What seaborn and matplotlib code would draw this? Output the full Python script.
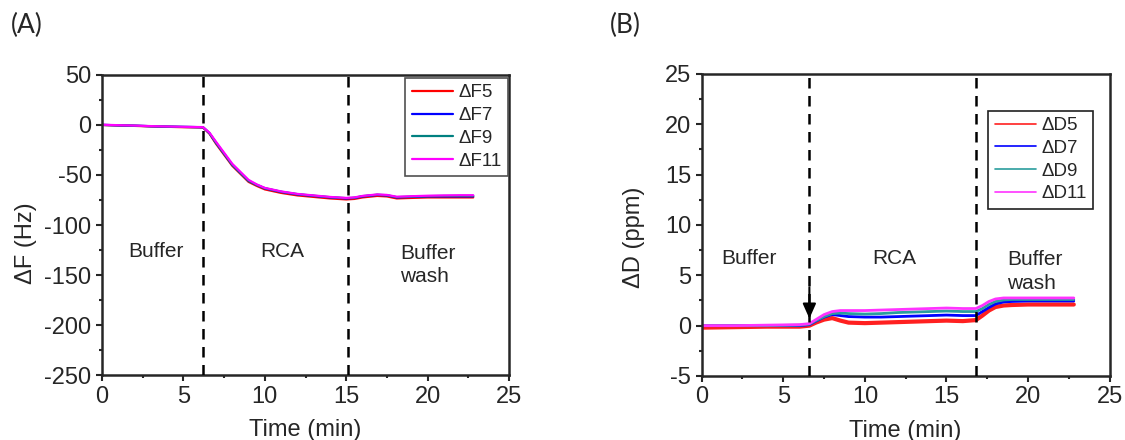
import pandas as pd
import seaborn as sns
import matplotlib.pyplot as plt
from matplotlib.ticker import MultipleLocator


# panel A: frequency shift (Hz) vs time (min)
time_a = [0, 1, 2, 3, 4, 5, 6.2, 6.6, 7.0, 7.5, 8.0, 8.5, 9.0, 9.5, 10, 11, 12, 13, 14, 15,
          15.5, 16, 16.9, 17.5, 18.1, 19, 20, 21, 22, 22.8]
df5 = [-0.3, -0.8, -1.2, -1.7, -2.1, -2.5, -2.8, -9, -19, -30, -41, -49, -57, -61, -64.5, -68, -70.5,
       -72, -73.5, -74.5, -74, -72.5, -71, -71.5, -73.5, -73, -72.5, -72.5, -72.5, -72.5]
df7 = [-0.2, -0.6, -1.0, -1.5, -1.9, -2.2, -2.5, -8.5, -18, -29, -40, -48, -56, -60, -63.5, -67, -69.5,
       -71, -72.5, -73.5, -73, -71.5, -70, -70.5, -72.5, -72, -71.5, -71.5, -71.5, -71.5]
df9 = [-0.2, -0.6, -1.0, -1.5, -1.9, -2.2, -2.5, -8.5, -18, -29, -40, -48, -56, -60, -63.3, -66.8, -69.2,
       -70.8, -72.2, -73.2, -72.8, -71.2, -69.8, -70.3, -72.2, -71.7, -71.2, -71.0, -71.0, -71.0]
df11 = [0, -0.5, -0.9, -1.4, -1.8, -2.1, -2.4, -8, -17, -28, -39, -47, -55, -59.5, -63, -66.5, -69,
        -70.5, -72, -73, -72.5, -71, -69.5, -70, -71.8, -71.3, -70.8, -70.5, -70.3, -70.3]

# panel B: dissipation shift (ppm) vs time (min)
time_b = [0, 2, 4, 6, 6.6, 7.0, 7.5, 8.0, 8.5, 9, 10, 11, 12, 13, 14, 15, 16, 16.8, 17.2, 17.6,
          18.0, 18.5, 19, 20, 21, 22, 22.8]
dd5 = [-0.2, -0.15, -0.1, -0.1, 0.0, 0.3, 0.6, 0.75, 0.5, 0.3, 0.25, 0.3, 0.35, 0.4, 0.45, 0.5, 0.45,
       0.55, 1.0, 1.5, 1.85, 2.0, 2.05, 2.1, 2.1, 2.1, 2.1]
dd7 = [0, 0, 0, 0, 0.1, 0.45, 0.85, 1.1, 1.0, 0.9, 0.85, 0.85, 0.9, 0.95, 1.0, 1.05, 1.0, 1.0, 1.4,
       1.8, 2.15, 2.35, 2.4, 2.45, 2.45, 2.45, 2.45]
dd9 = [0, 0, 0, 0.05, 0.15, 0.5, 0.9, 1.2, 1.25, 1.2, 1.15, 1.2, 1.3, 1.35, 1.4, 1.45, 1.4, 1.4, 1.7,
       2.1, 2.4, 2.55, 2.6, 2.6, 2.6, 2.6, 2.6]
dd11 = [0, 0, 0.05, 0.1, 0.2, 0.6, 1.1, 1.4, 1.5, 1.5, 1.5, 1.55, 1.6, 1.65, 1.7, 1.75, 1.7, 1.7, 2.0,
        2.4, 2.65, 2.75, 2.75, 2.75, 2.75, 2.75, 2.75]

labels_a = ["\u0394F5", "\u0394F7", "\u0394F9", "\u0394F11"]
labels_b = ["\u0394D5", "\u0394D7", "\u0394D9", "\u0394D11"]
phase_a = [6.2, 15.1]
phase_b = [6.6, 16.8]

rows = []
for lab, vals in zip(labels_a, [df5, df7, df9, df11]):
    rows += [(t, v, lab) for t, v in zip(time_a, vals)]
data_a = pd.DataFrame(rows, columns=["t", "val", "series"])
rows = []
for lab, vals in zip(labels_b, [dd5, dd7, dd9, dd11]):
    rows += [(t, v, lab) for t, v in zip(time_b, vals)]
data_b = pd.DataFrame(rows, columns=["t", "val", "series"])

sns.set_style("ticks")
plt.rcParams['font.family'] = ['Liberation Sans', 'DejaVu Sans']
plt.rcParams['axes.unicode_minus'] = False
plt.rcParams['axes.linewidth'] = 1.8

fig = plt.figure(figsize=(11.25, 4.4), dpi=100)
ax1 = fig.add_axes([0.0907, 0.1466, 0.3618, 0.684])
ax2 = fig.add_axes([0.6237, 0.1455, 0.3627, 0.6864])

pal_a = dict(zip(labels_a, ["#ff0000", "#0000ff", "#008080", "#ff00ff"]))
pal_b = dict(zip(labels_b, ["#ff2020", "#0000ff", "#2a9d9d", "#ff33ff"]))

sns.lineplot(data=data_a, x="t", y="val", hue="series", palette=pal_a, ax=ax1,
             estimator=None, sort=False, linewidth=1.6)
sns.lineplot(data=data_b, x="t", y="val", hue="series", palette=pal_b, ax=ax2,
             estimator=None, sort=False, linewidth=2.0)
# red trace in B is noisy, show it thicker
ax2.get_lines()[0].set_linewidth(3.0)

for ax, xs in [(ax1, phase_a), (ax2, phase_b)]:
    for x in xs:
        ax.axvline(x, color='black', lw=1.8, dashes=(4.2, 3.0), zorder=5)
    ax.set_xlim(0, 25)
    ax.xaxis.set_major_locator(MultipleLocator(5))
    ax.xaxis.set_minor_locator(MultipleLocator(2.5))
    ax.tick_params(which='major', direction='out', length=4.5, width=1.5, labelsize=17, pad=3)
    ax.tick_params(which='minor', direction='out', length=2.5, width=1.5)
    ax.set_xlabel("Time (min)", fontsize=17, labelpad=8)

ax1.set_ylim(-250, 50)
ax1.yaxis.set_major_locator(MultipleLocator(50))
ax1.yaxis.set_minor_locator(MultipleLocator(25))
ax1.set_ylabel("\u0394F (Hz)", fontsize=17)
ax1.yaxis.set_label_coords(-0.16, 0.44)

ax2.set_ylim(-5, 25)
ax2.yaxis.set_major_locator(MultipleLocator(5))
ax2.yaxis.set_minor_locator(MultipleLocator(2.5))
ax2.set_ylabel("\u0394D (ppm)", fontsize=17)
ax2.yaxis.set_label_coords(-0.14, 0.46)

# phase labels
ax1.text(3.3, -126.7, "Buffer", ha='center', va='center', fontsize=15)
ax1.text(11.05, -126.7, "RCA", ha='center', va='center', fontsize=15)
ax1.text(18.33, -140, "Buffer\nwash", ha='left', va='center', fontsize=15, linespacing=1.3)
ax2.text(2.87, 6.7, "Buffer", ha='center', va='center', fontsize=15)
ax2.text(11.8, 6.7, "RCA", ha='center', va='center', fontsize=15)
ax2.text(18.7, 5.4, "Buffer\nwash", ha='left', va='center', fontsize=15, linespacing=1.3)

ax2.annotate('', xy=(6.6, 0.7), xytext=(6.6, 3.8),
             arrowprops=dict(arrowstyle='-|>,head_length=0.9,head_width=0.4', color='black',
                             lw=1.5, mutation_scale=10, shrinkA=0, shrinkB=0), zorder=6)

leg_kw = dict(loc='upper right', borderaxespad=0, fontsize=13.5, handlelength=2.2,
              handletextpad=0.3, labelspacing=0.3, borderpad=0.33, fancybox=False,
              framealpha=1)
leg1 = ax1.legend(bbox_to_anchor=(0.997, 0.988), edgecolor='#505050', **leg_kw)
leg1.get_frame().set_linewidth(1.2)
leg2 = ax2.legend(bbox_to_anchor=(0.959, 0.878), edgecolor='#202020', **leg_kw)
leg2.get_frame().set_linewidth(1.2)
for ln in leg2.get_lines():
    ln.set_linewidth(1.2)

fig.text(0.024, 0.942, "(A)", ha='center', va='center', fontsize=19, family=['Lato', 'DejaVu Sans'])
fig.text(0.556, 0.942, "(B)", ha='center', va='center', fontsize=19, family=['Lato', 'DejaVu Sans'])

fig.savefig("out.png", dpi=100)
